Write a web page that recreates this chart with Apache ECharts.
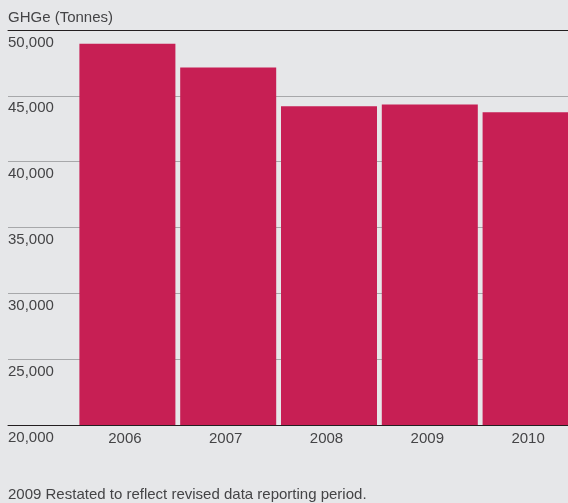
<!DOCTYPE html>
<html>
<head>
<meta charset="utf-8">
<script src="https://cdn.jsdelivr.net/npm/echarts@6/dist/echarts.min.js"></script>
<style>
  html, body { margin: 0; padding: 0; background: #e6e7e9; }
  #chart { width: 568px; height: 503px; }
</style>
</head>
<body>
<div id="chart"></div>
<script>
// Greenhouse gas emissions by year
const years = ['2006', '2007', '2008', '2009', '2010'];
const emissions = [48950, 47150, 44200, 44350, 43750];
const axisMin = 20000;
const axisMax = 50000;
const axisStep = 5000;

const font = '"Liberation Sans", Arial, sans-serif';
const textColor = '#444446';
const fmt = v => v.toLocaleString('en-US');

const chart = echarts.init(document.getElementById('chart'), null, { renderer: 'canvas' });
chart.setOption({
  backgroundColor: '#e6e7e9',
  animation: false,
  title: [
    {
      text: 'GHGe (Tonnes)',
      left: 8, top: 10, padding: 0,
      textStyle: { fontFamily: font, fontSize: 15, fontWeight: 'normal', color: textColor }
    },
    {
      text: '2009 Restated to reflect revised data reporting period.',
      left: 8, top: 487, padding: 0,
      textStyle: { fontFamily: font, fontSize: 15, fontWeight: 'normal', color: textColor }
    }
  ],
  grid: [
    // full-width frame carrying the value labels and rules
    { left: 8, right: 0, top: 30, bottom: 78, outerBoundsMode: 'none' },
    // plotting area for the bars; the last column runs past the right edge
    { left: 77, width: 504, top: 30, bottom: 78, outerBoundsMode: 'none' }
  ],
  xAxis: [
    {
      gridIndex: 0, type: 'category', data: [''], position: 'bottom',
      axisLine: { lineStyle: { color: '#231f20', width: 1 } },
      axisTick: { show: false }, axisLabel: { show: false }
    },
    {
      gridIndex: 0, type: 'category', data: [''], position: 'top',
      axisLine: { lineStyle: { color: '#231f20', width: 1 } },
      axisTick: { show: false }, axisLabel: { show: false }
    },
    {
      gridIndex: 1, type: 'category', data: years, position: 'bottom',
      axisLine: { show: false }, axisTick: { show: false },
      axisLabel: {
        fontFamily: font, fontSize: 15, color: textColor,
        margin: 6, padding: [0, 5, 0, 0]
      }
    }
  ],
  yAxis: [
    {
      gridIndex: 0, type: 'value', min: axisMin, max: axisMax, interval: axisStep,
      axisLine: { show: false }, axisTick: { show: false },
      splitLine: { lineStyle: { color: '#a7a8aa', width: 1 } },
      axisLabel: {
        inside: true, margin: 0, align: 'left', verticalAlign: 'top',
        padding: [5, 0, 0, 0],
        fontFamily: font, fontSize: 15, color: textColor,
        formatter: fmt
      }
    },
    {
      gridIndex: 1, type: 'value', min: axisMin, max: axisMax, interval: axisStep,
      show: false
    }
  ],
  series: [
    {
      type: 'bar',
      xAxisIndex: 2, yAxisIndex: 1,
      data: emissions,
      barWidth: 96,
      itemStyle: { color: '#c71f54' }
    }
  ]
});
</script>
</body>
</html>
